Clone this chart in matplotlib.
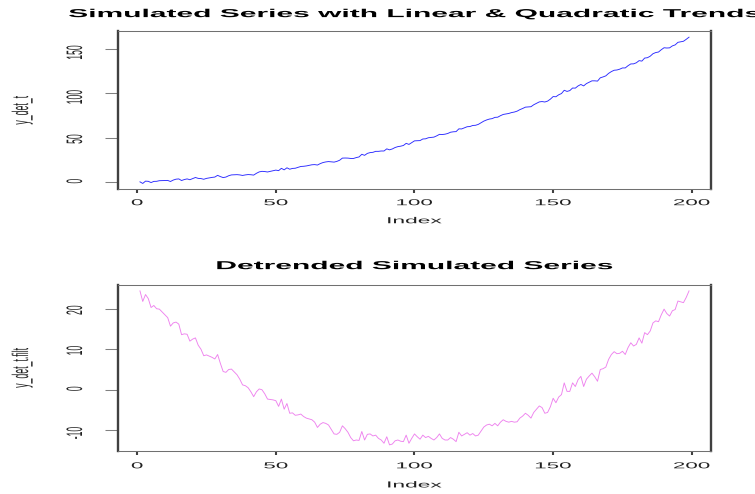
import matplotlib
matplotlib.use('Agg')
import matplotlib.pyplot as plt
from matplotlib.patheffects import AbstractPathEffect
from matplotlib.transforms import Affine2D

plt.rcParams['font.family'] = ['Liberation Sans', 'DejaVu Sans']
plt.rcParams['axes.unicode_minus'] = False

# simulated series (index 1..199)
y_det_t = [
    0.4, -1.4, 1.2, 1.0, -0.4, 0.9, 1.0, 1.7, 1.8, 1.9,
    2.0, 0.8, 2.4, 3.4, 3.7, 1.9, 3.0, 3.7, 2.8, 4.1,
    5.3, 4.3, 4.1, 3.3, 4.3, 4.9, 5.4, 5.8, 7.7, 6.3,
    5.2, 5.8, 7.3, 8.2, 8.4, 8.5, 8.2, 7.6, 8.2, 8.6,
    8.4, 8.0, 10.0, 11.6, 12.2, 12.0, 11.5, 12.2, 13.0, 13.6,
    13.0, 15.6, 13.9, 16.2, 14.6, 15.5, 15.7, 16.7, 17.7, 17.9,
    18.3, 18.9, 19.6, 19.8, 19.3, 20.9, 22.1, 22.8, 23.2, 22.9,
    22.6, 23.4, 24.7, 27.1, 27.2, 27.1, 26.7, 26.7, 27.7, 28.4,
    31.4, 30.2, 32.4, 33.3, 33.6, 34.7, 34.7, 35.1, 35.1, 37.5,
    36.4, 37.4, 39.0, 40.0, 40.5, 41.3, 43.7, 42.5, 44.5, 46.5,
    46.6, 46.8, 48.6, 48.8, 50.0, 50.3, 50.7, 52.1, 53.8, 53.6,
    54.0, 54.8, 56.2, 56.7, 56.9, 60.0, 59.9, 61.1, 62.4, 62.6,
    63.8, 64.0, 65.0, 66.9, 68.7, 70.0, 71.0, 71.5, 72.9, 73.1,
    74.8, 76.2, 76.7, 77.3, 78.3, 78.9, 79.9, 81.6, 82.9, 84.4,
    84.7, 84.9, 87.1, 88.7, 90.3, 90.7, 90.2, 91.2, 93.4, 96.3,
    96.1, 98.3, 99.7, 103.4, 102.1, 103.0, 105.9, 105.8, 108.3, 109.9,
    108.3, 110.9, 112.5, 114.0, 114.0, 113.7, 117.4, 118.4, 119.6, 122.4,
    124.4, 125.9, 126.2, 127.1, 128.5, 128.5, 131.0, 133.0, 133.1, 134.3,
    136.7, 136.2, 139.6, 140.0, 141.7, 144.5, 145.8, 146.4, 149.0, 151.2,
    150.9, 151.1, 153.3, 154.4, 157.3, 157.9, 158.5, 160.7, 163.1,
]

# residuals after removing the linear fit
y_det_t_filt = [
    24.4, 21.8, 23.5, 22.5, 20.3, 20.8, 20.0, 19.9, 19.2, 18.5,
    17.8, 15.7, 16.5, 16.7, 16.2, 13.6, 13.8, 13.7, 12.0, 12.5,
    12.8, 11.0, 10.0, 8.4, 8.6, 8.3, 8.0, 7.6, 8.7, 6.5,
    4.5, 4.3, 5.0, 5.1, 4.4, 3.7, 2.6, 1.2, 1.0, 0.5,
    -0.5, -1.7, -0.5, 0.2, 0.0, -1.0, -2.3, -2.4, -2.5, -2.7,
    -4.1, -2.3, -4.8, -3.4, -5.8, -5.7, -6.3, -6.2, -6.0, -6.6,
    -7.0, -7.2, -7.4, -8.0, -9.3, -8.5, -8.1, -8.3, -8.7, -9.8,
    -10.9, -11.0, -10.5, -8.9, -9.6, -10.5, -11.8, -12.6, -12.4, -12.5,
    -10.3, -12.4, -11.0, -10.9, -11.4, -11.2, -12.0, -12.4, -13.2, -11.6,
    -13.6, -13.4, -12.6, -12.4, -12.7, -12.8, -11.2, -13.2, -12.0, -10.9,
    -11.6, -12.2, -11.2, -11.8, -11.5, -12.0, -12.4, -11.8, -10.9, -12.0,
    -12.4, -12.4, -11.8, -12.2, -12.8, -10.5, -11.4, -11.0, -10.6, -11.2,
    -10.8, -11.4, -11.2, -10.2, -9.2, -8.7, -8.5, -8.9, -8.3, -8.9,
    -8.0, -7.4, -7.8, -8.0, -7.8, -8.0, -7.9, -7.0, -6.5, -5.8,
    -6.3, -7.0, -5.6, -4.8, -4.0, -4.4, -5.8, -5.6, -4.2, -2.1,
    -3.2, -1.8, -1.2, 1.7, -0.4, -0.4, 1.7, 0.8, 2.5, 3.3,
    0.8, 2.6, 3.4, 4.1, 3.2, 2.1, 5.0, 5.2, 5.6, 7.5,
    8.7, 9.4, 8.9, 9.0, 9.5, 8.7, 10.4, 11.6, 10.8, 11.2,
    12.8, 11.5, 14.1, 13.6, 14.5, 16.5, 17.0, 16.8, 18.5, 19.9,
    18.8, 18.2, 19.5, 19.8, 21.9, 21.7, 21.5, 22.8, 24.4,
]

index = list(range(1, len(y_det_t) + 1))
x_ticks = [0, 50, 100, 150, 200]
top_y_ticks = [0, 50, 100, 150]
bottom_y_ticks = [-10, 0, 10, 20]


class WideText(AbstractPathEffect):
    # the reference is stretched sideways, so stretch text the same way
    def __init__(self, sx=2.6):
        super().__init__()
        self.sx = sx

    def draw_path(self, renderer, gc, tpath, affine, rgbFace=None):
        box = affine.transform_path(tpath).get_extents()
        cx = 0.5 * (box.x0 + box.x1)
        stretch = Affine2D().translate(-cx, 0).scale(self.sx, 1).translate(cx, 0)
        renderer.draw_path(gc, tpath, affine + stretch, rgbFace)


def r_style(ax, y, color, title, ylabel, yticks, title_y, xlab_y, xpad):
    ax.plot(index, y, color=color, lw=0.65)
    ax.margins(x=0.04, y=0.04)
    ax.set_xticks(x_ticks)
    ax.set_yticks(yticks)
    t = ax.set_title(title, fontsize=8.3, fontweight='bold', y=title_y, va='center', pad=0)
    t.set_path_effects([WideText()])
    ax.set_xlabel('Index', fontsize=6.3, va='center', color='#222222')
    ax.xaxis.set_label_coords(0.5, xlab_y)
    ax.set_ylabel(ylabel, fontsize=6.3, va='center', color='#222222')
    ax.yaxis.set_label_coords(-0.162, 0.5)
    ax.xaxis.label.set_path_effects([WideText()])
    ax.yaxis.label.set_path_effects([WideText()])
    ax.tick_params(axis='x', length=2.9, width=1.5, color='#404040', pad=xpad,
                   labelsize=6.2, labelcolor='#222222')
    ax.tick_params(axis='y', length=9.4, width=0.75, color='#808080', pad=18.5,
                   labelsize=6.2, labelcolor='#222222', labelrotation=90)
    for tk in ax.xaxis.get_major_ticks() + ax.yaxis.get_major_ticks():
        tk.label1.set_path_effects([WideText()])
    for side in ['left', 'right']:
        ax.spines[side].set_linewidth(1.7)
        ax.spines[side].set_color('#404040')
    for side in ['top', 'bottom']:
        ax.spines[side].set_linewidth(0.75)
        ax.spines[side].set_color('#707070')


fig = plt.figure(figsize=(7.55, 4.94), dpi=100)
ax1 = fig.add_axes([0.1563, 0.6168, 0.7854, 0.3198])
ax2 = fig.add_axes([0.1563, 0.0870, 0.7854, 0.3366])

r_style(ax1, y_det_t, '#2a2aff', 'Simulated Series with Linear & Quadratic Trends',
        'y_det_t', top_y_ticks, 1.109, -0.199, 3.5)
r_style(ax2, y_det_t_filt, '#ee82ee', 'Detrended Simulated Series',
        'y_det_t.filt', bottom_y_ticks, 1.112, -0.204, 4.5)

fig.savefig('out.png', dpi=100)
